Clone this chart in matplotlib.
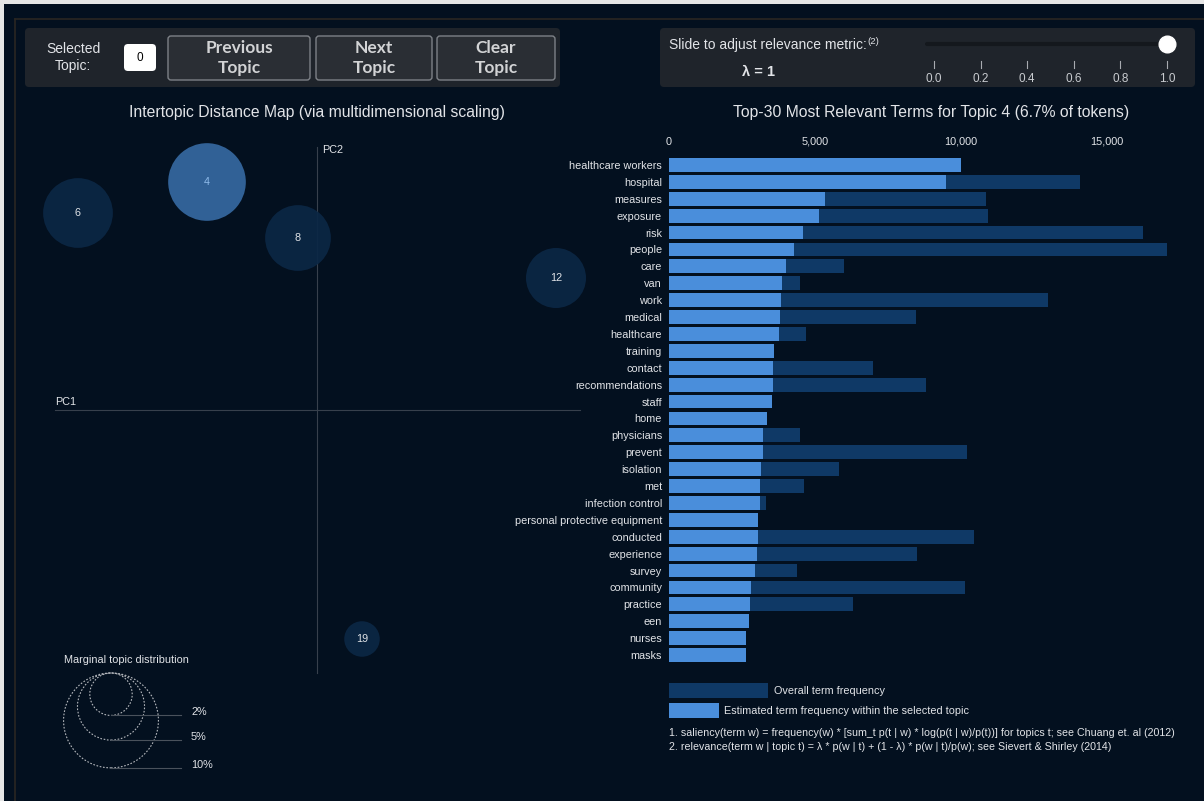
import matplotlib
matplotlib.use("Agg")
import matplotlib.pyplot as plt
from matplotlib.patches import Circle, FancyBboxPatch, Rectangle
from matplotlib.ticker import FuncFormatter

# ---- data -------------------------------------------------------------
TERMS = [
    "healthcare workers", "hospital", "measures", "exposure", "risk", "people",
    "care", "van", "work", "medical", "healthcare", "training", "contact",
    "recommendations", "staff", "home", "physicians", "prevent", "isolation",
    "met", "infection control", "personal protective equipment", "conducted",
    "experience", "survey", "community", "practice", "een", "nurses", "masks",
]
TOPIC_FREQ = [
    10000, 9500, 5330, 5120, 4590, 4270, 4010, 3880, 3820, 3790, 3750, 3590,
    3560, 3550, 3540, 3350, 3220, 3210, 3150, 3120, 3100, 3060, 3040, 3010,
    2960, 2810, 2780, 2750, 2640, 2620,
]
OVERALL_FREQ = [
    10000, 14070, 10850, 10930, 16220, 17070, 5980, 4490, 12970, 8450, 4700,
    3590, 6990, 8790, 3540, 3350, 4470, 10190, 5810, 4620, 3320, 3060, 10440,
    8510, 4380, 10130, 6300, 2750, 2640, 2620,
]
FREQ_TICKS = [0, 5000, 10000, 15000]

TOPIC_IDS = [4, 6, 8, 12, 19]
TOPIC_PC1 = [-0.110, -0.239, -0.019, 0.239, 0.045]
TOPIC_PC2 = [0.228, 0.197, 0.172, 0.132, -0.229]
TOPIC_SHARE = [6.7, 5.4, 4.8, 4.0, 1.4]   # % of tokens
SELECTED = 4
MARGINAL_LEVELS = [2, 5, 10]

LAMBDA = 1.0
LAMBDA_TICKS = [0.0, 0.2, 0.4, 0.6, 0.8, 1.0]

# ---- style ------------------------------------------------------------
W, H = 1204, 801
BG = "#03101f"
PANEL = "#1f242b"
BTN = "#2a2e34"
LIGHT = "#4a8edb"
DARK = "#0f3966"
CIRC = "#0b2745"
CIRC_SEL = "#3669a1"
TXT = "#e2e4e8"
FONT = "Liberation Sans"
R_SCALE = 0.015  # circle radius per sqrt(%)

plt.rcParams["font.family"] = [FONT, "DejaVu Sans"]


def fbox(x0, y0, x1, y1):
    # pixel box -> figure fraction [left, bottom, width, height]
    return [x0 / W, 1 - y1 / H, (x1 - x0) / W, (y1 - y0) / H]


fig = plt.figure(figsize=(W / 100, H / 100), dpi=100, facecolor=BG)

# background canvas in pixel units
bg = fig.add_axes([0, 0, 1, 1])
bg.set_xlim(0, W)
bg.set_ylim(H, 0)
bg.axis("off")
bg.set_facecolor(BG)

# screenshot frame
bg.add_patch(Rectangle((0, 0), W, 4, color="#e6e6e6", lw=0))
bg.add_patch(Rectangle((0, 0), 4, H, color="#e6e6e6", lw=0))
bg.plot([15, 15], [19, H], color="#2a2622", lw=1.2)
bg.plot([15, W], [19, 19], color="#2a2622", lw=1.2)

# control panels
for x0, x1 in [(25, 560), (660, 1195)]:
    bg.add_patch(FancyBboxPatch((x0, 28), x1 - x0, 59,
                                boxstyle="round,pad=0,rounding_size=4",
                                fc=PANEL, ec="none"))

bg.text(73, 57.5, "Selected\nTopic:", ha="center", va="center", color=TXT,
        fontsize=10, linespacing=1.2)
bg.add_patch(FancyBboxPatch((124, 44), 32, 27,
                            boxstyle="round,pad=0,rounding_size=4",
                            fc="white", ec="none"))
bg.text(140, 58, "0", ha="center", va="center", color="black", fontsize=8.5)

for (x0, x1), label in zip([(168, 310), (316, 432), (437, 555)],
                           ["Previous\nTopic", "Next\nTopic", "Clear\nTopic"]):
    bg.add_patch(FancyBboxPatch((x0, 36), x1 - x0, 44,
                                boxstyle="round,pad=0,rounding_size=3",
                                fc=BTN, ec="#7d8187", lw=1))
    bg.text((x0 + x1) / 2, 58, label, ha="center", va="center",
            color="#d2d3d5", fontsize=12.5, fontweight="bold",
            family=["Lato", "DejaVu Sans"], linespacing=1.25)

slide = bg.text(669, 45, "Slide to adjust relevance metric:", ha="left",
                va="center", color=TXT, fontsize=10)
bg.annotate("(2)", xy=(1, 1), xycoords=slide, xytext=(0.3, 0.5),
            textcoords="offset points", ha="left", va="top", color=TXT,
            fontsize=6.8)
bg.text(758, 72, "λ = %g" % LAMBDA, ha="center", va="center", color=TXT,
        fontsize=10.5, fontweight="bold")

# slider
sl = fig.add_axes(fbox(934, 30, 1167, 85))
sl.set_xlim(0, 1)
sl.set_ylim(85, 30)
sl.axis("off")
sl.plot([-0.03, LAMBDA], [44, 44], color="#14181d", lw=3,
        solid_capstyle="round", clip_on=False)
sl.plot([LAMBDA], [44], "o", ms=12, color="white", clip_on=False)
for t in LAMBDA_TICKS:
    sl.plot([t, t], [61, 68], color="#a8abb0", lw=0.8, clip_on=False)
    sl.text(t, 78.5, "%.1f" % t, ha="center", va="center", color="#c9ccd0",
            fontsize=8.5, clip_on=False)

# titles
bg.text(317, 112, "Intertopic Distance Map (via multidimensional scaling)",
        ha="center", va="center", color=TXT, fontsize=11.3)
bg.text(931, 113, "Top-30 Most Relevant Terms for Topic %d (6.7%% of tokens)"
        % SELECTED, ha="center", va="center", color=TXT, fontsize=11.3)

# ---- intertopic distance map -----------------------------------------
ax = fig.add_axes(fbox(30, 90, 600, 790))
ax.set_xlim(-0.287, 0.283)
ax.set_ylim(-0.380, 0.320)
ax.axis("off")
ax.plot([0, 0], [-0.263, 0.263], color="#37404c", lw=0.8, zorder=1)
ax.plot([-0.262, 0.263], [0, 0], color="#37404c", lw=0.8, zorder=1)
ax.text(-0.262, 0.008, "PC1", color=TXT, fontsize=7.8, va="center")
ax.text(0.005, 0.260, "PC2", color=TXT, fontsize=7.8, va="center")

for tid, x, y, share in zip(TOPIC_IDS, TOPIC_PC1, TOPIC_PC2, TOPIC_SHARE):
    sel = tid == SELECTED
    ax.add_patch(Circle((x, y), R_SCALE * share ** 0.5,
                        fc=CIRC_SEL if sel else CIRC, ec="none",
                        alpha=0.92, zorder=2))
    ax.text(x, y, str(tid), ha="center", va="center", fontsize=7.8,
            color="#8fbbea" if sel else "#dfe2e6", zorder=3)

# marginal topic distribution legend
cx, top = -0.206, -0.263
ax.text(-0.253, -0.250, "Marginal topic distribution", color=TXT,
        fontsize=7.8, va="center")
for lvl in MARGINAL_LEVELS:
    r = R_SCALE * lvl ** 0.5
    ax.add_patch(Circle((cx, top - r), r, fc="none", ec="#b5b8bd", lw=0.8,
                        ls=(0, (1.5, 1.5))))
    ax.plot([cx, -0.136], [top - 2 * r] * 2, color="#4a525c", lw=0.8)
    ax.text(-0.126, top - 2 * r + 0.003, "%d%%" % lvl, color=TXT,
            fontsize=7.8, va="center")

# ---- term bar chart ---------------------------------------------------
bx = fig.add_axes(fbox(669, 156.5, 1190, 663.5))
bx.set_facecolor("none")
ypos = list(range(len(TERMS)))
bx.barh(ypos, OVERALL_FREQ, height=0.82, color=DARK, lw=0)
bx.barh(ypos, TOPIC_FREQ, height=0.82, color=LIGHT, lw=0)
bx.set_xlim(0, 17842)
bx.set_ylim(len(TERMS) - 0.5, -0.5)
bx.set_yticks(ypos)
bx.set_yticklabels(TERMS)
bx.set_xticks(FREQ_TICKS)
bx.xaxis.set_major_formatter(FuncFormatter(lambda v, p: "{:,.0f}".format(v)))
bx.xaxis.tick_top()
bx.tick_params(axis="both", length=0, colors=TXT, labelsize=7.8)
bx.tick_params(axis="y", pad=5)
bx.tick_params(axis="x", pad=7)
for s in bx.spines.values():
    s.set_visible(False)

# legend + footnotes
bg.add_patch(Rectangle((669, 683), 99, 15, fc=DARK, ec="none"))
bg.text(774, 690.5, "Overall term frequency", color=TXT, fontsize=7.8,
        va="center")
bg.add_patch(Rectangle((669, 703), 50, 15, fc=LIGHT, ec="none"))
bg.text(724, 710.5, "Estimated term frequency within the selected topic",
        color=TXT, fontsize=7.8, va="center")
bg.text(669, 733, "1. saliency(term w) = frequency(w) * [sum_t p(t | w) * "
        "log(p(t | w)/p(t))] for topics t; see Chuang et. al (2012)",
        color=TXT, fontsize=7.7, va="center")
bg.text(669, 747, "2. relevance(term w | topic t) = λ * p(w | t) + (1 - λ) * "
        "p(w | t)/p(w); see Sievert & Shirley (2014)",
        color=TXT, fontsize=7.7, va="center")

fig.savefig("out.png", dpi=100, facecolor=BG)
